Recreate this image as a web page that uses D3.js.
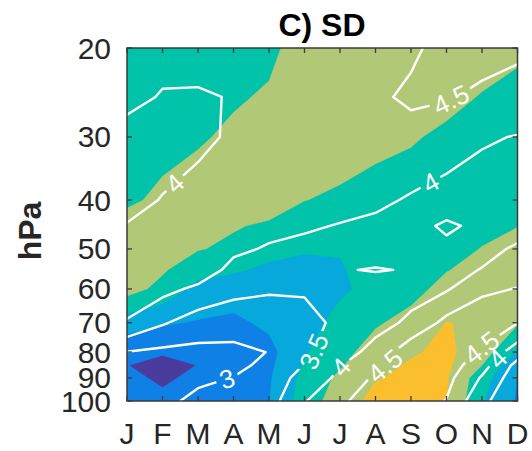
<!DOCTYPE html>
<html><head><meta charset="utf-8">
<script src="https://cdn.jsdelivr.net/npm/d3@7"></script>
<style>body{margin:0;background:#fff}</style>
</head><body><svg id="c" width="532" height="451"></svg>
<script>
// ---------- data ----------
const months = ["J","F","M","A","M","J","J","A","S","O","N","D"];
const levels = [20,25,30,40,45,50,55,60,70,80,85,90,100];   // hPa, grid rows
const yTicks = [20,30,40,50,60,70,80,90,100];
const shadeThresholds = [2.75,3.25,3.75,4.25,4.75];
const lineLevels = [3,3.5,4,4.5];

// shaded SD field (rows = levels, cols = months)
const shadeSD = [
 [4.00,4.00,4.05,4.10,4.15,4.45,4.45,4.45,4.50,4.55,4.50,4.35],
 [4.05,4.05,4.10,4.20,4.30,4.50,4.50,4.50,4.50,4.40,4.22,4.10],
 [4.10,4.15,4.20,4.33,4.45,4.55,4.50,4.40,4.30,4.15,4.00,3.95],
 [4.20,4.31,4.45,4.45,4.50,4.26,4.17,4.05,4.00,3.95,3.90,4.05],
 [4.36,4.44,4.36,4.29,4.18,4.01,3.96,3.97,3.95,4.00,4.10,4.24],
 [4.50,4.55,4.28,4.15,3.90,3.78,3.78,3.90,3.90,4.05,4.27,4.40],
 [4.47,4.31,3.92,3.81,3.66,3.66,3.71,3.93,4.00,4.23,4.42,4.45],
 [4.45,4.10,3.60,3.50,3.45,3.55,3.65,3.95,4.10,4.40,4.55,4.50],
 [3.50,3.30,3.215,3.15,3.35,3.50,3.95,4.20,4.40,4.76,4.70,4.30],
 [2.85,2.80,2.95,3.05,3.10,3.70,4.10,4.45,4.70,4.85,4.50,3.70],
 [2.76,2.60,2.76,2.95,3.15,3.80,4.20,4.60,4.80,4.85,4.25,3.35],
 [2.85,2.68,2.85,2.95,3.20,3.90,4.35,4.72,4.85,4.80,3.95,3.24],
 [2.95,2.85,2.95,3.00,3.24,4.00,4.50,4.90,4.95,4.76,3.80,3.20]
];
// contoured SD field
const lineSD = [
 [4.10,4.05,4.08,4.12,4.15,4.30,4.35,4.40,4.45,4.60,4.60,4.55],
 [4.04,3.99,3.98,4.01,4.10,4.30,4.40,4.45,4.55,4.52,4.45,4.40],
 [3.95,3.90,3.92,4.05,4.20,4.30,4.35,4.40,4.40,4.35,4.05,3.98],
 [3.93,4.01,4.12,4.25,4.30,4.15,4.15,4.10,3.95,3.75,3.80,3.80],
 [4.01,4.15,4.25,4.30,4.15,4.05,3.98,3.90,3.85,4.07,3.90,3.80],
 [4.15,4.30,4.35,4.10,3.95,3.90,3.90,3.60,3.80,3.90,3.85,4.07],
 [4.20,4.30,4.30,3.85,3.80,3.70,3.95,4.05,3.95,3.85,4.02,4.25],
 [4.15,4.15,3.90,3.65,3.55,3.55,3.70,3.60,3.85,3.95,4.40,4.52],
 [3.98,3.55,3.255,3.18,3.26,3.35,3.60,3.85,4.08,4.65,4.83,4.51],
 [2.99,2.90,2.885,2.905,3.01,3.40,3.80,4.15,4.85,4.80,4.43,3.74],
 [2.85,2.75,2.80,2.90,3.10,3.52,3.98,4.35,4.90,4.75,4.20,3.34],
 [2.80,2.70,2.92,3.01,3.20,3.70,4.10,4.58,4.85,4.65,3.95,3.20],
 [2.80,2.90,3.10,3.15,3.30,3.97,4.40,4.80,4.75,4.48,3.60,3.16]
];
// contour labels: level, month index, pressure
const labelLevels = [4,4.5,4,3.5,3,4,4.5,4.5,4];
const labelMonths = [1.44,9.15,8.54,5.18,2.85,6.03,7.27,10.0,10.42];
const labelPress  = [37.7,25.5,36.8,79.3,91.7,85.7,85.2,78.6,82.2];

// ---------- drawing ----------
const W=532,H=451,L=127,R=517.5,T=48,B=401;
const colors = ["#4a3b9c","#0f80e6","#07a8db","#00c3aa","#b1c876","#fbbf2e"];
const FONT="'Liberation Sans',Arial,sans-serif";
const svg = d3.select("#c");
const x = d3.scaleLinear().domain([0,11]).range([L,R]);
const y = d3.scaleLog().domain([20,100]).range([T,B]);
const nx = months.length, ny = levels.length;

function toPx(pt){
  const xi = Math.max(0, Math.min(nx-1, pt[0]-0.5));
  const yi = Math.max(0, Math.min(ny-1, pt[1]-0.5));
  const i0 = Math.min(ny-2, Math.floor(yi)), f = yi - i0;
  const py = y(levels[i0]) + f*(y(levels[i0+1]) - y(levels[i0]));
  return [x(xi), py, xi, yi];
}

const defs = svg.append("defs");
defs.append("clipPath").attr("id","plotclip").append("rect")
  .attr("x",L).attr("y",T).attr("width",R-L).attr("height",B-T);

const gFill = svg.append("g").attr("clip-path","url(#plotclip)");
gFill.append("rect").attr("x",L).attr("y",T).attr("width",R-L).attr("height",B-T).attr("fill",colors[0]);
const fillContours = d3.contours().size([nx,ny]).thresholds(shadeThresholds)(shadeSD.flat());
fillContours.forEach((mp,i)=>{
  let d="";
  mp.coordinates.forEach(poly=>poly.forEach(ring=>{
    d += "M" + ring.map(p=>{const q=toPx(p);return q[0].toFixed(2)+","+q[1].toFixed(2);}).join("L") + "Z";
  }));
  gFill.append("path").attr("d",d).attr("fill",colors[i+1]).attr("fill-rule","evenodd")
    .attr("stroke",colors[i+1]).attr("stroke-width",0.3);
});

// contour lines
const lineContours = d3.contours().size([nx,ny]).thresholds(lineLevels)(lineSD.flat());
const polylinesByLevel = {};
lineContours.forEach(mp=>{
  const lines=[];
  mp.coordinates.forEach(poly=>poly.forEach(ring=>{
    const pts = ring.map(toPx);
    let cur=[];
    for(let k=0;k<pts.length-1;k++){
      const a=pts[k], b=pts[k+1];
      const edge=(a[2]===0&&b[2]===0)||(a[2]===nx-1&&b[2]===nx-1)||(a[3]===0&&b[3]===0)||(a[3]===ny-1&&b[3]===ny-1);
      if(edge){ if(cur.length>1) lines.push(cur); cur=[]; }
      else { if(!cur.length) cur.push(a); cur.push(b); }
    }
    if(cur.length>1) lines.push(cur);
  }));
  polylinesByLevel[mp.value]=lines;
});

const mask = defs.append("mask").attr("id","gap").attr("maskUnits","userSpaceOnUse")
  .attr("x",0).attr("y",0).attr("width",W).attr("height",H);
mask.append("rect").attr("width",W).attr("height",H).attr("fill","white");

const gLines = svg.append("g").attr("clip-path","url(#plotclip)");
const gL2 = gLines.append("g").attr("mask","url(#gap)");
Object.keys(polylinesByLevel).forEach(k=>{
  polylinesByLevel[k].forEach(pl=>{
    gL2.append("path").attr("d","M"+pl.map(p=>p[0].toFixed(2)+","+p[1].toFixed(2)).join("L"))
      .attr("fill","none").attr("stroke","#fff").attr("stroke-width",2.4)
      .attr("stroke-linejoin","round").attr("stroke-linecap","round");
  });
});

// labels
const gLab = svg.append("g");
labelLevels.forEach((lv,i)=>{
  const ax=x(labelMonths[i]), ay=y(labelPress[i]);
  const lines = polylinesByLevel[lv]||[];
  let best=null;
  lines.forEach(pl=>{
    for(let k=0;k<pl.length-1;k++){
      const a=pl[k],b=pl[k+1];
      const dx=b[0]-a[0], dy=b[1]-a[1], L2=dx*dx+dy*dy;
      if(L2===0) continue;
      let t=((ax-a[0])*dx+(ay-a[1])*dy)/L2; t=Math.max(0,Math.min(1,t));
      const px=a[0]+t*dx, py=a[1]+t*dy, dd=(px-ax)**2+(py-ay)**2;
      if(!best||dd<best.d) best={d:dd,px,py,ang:Math.atan2(dy,dx)*180/Math.PI};
    }
  });
  if(!best) return;
  let ang=best.ang; if(ang>90) ang-=180; if(ang<=-90) ang+=180;
  const txt = gLab.append("text").text(String(lv))
    .attr("transform",`translate(${best.px},${best.py}) rotate(${ang})`)
    .attr("text-anchor","middle").attr("dy","0.36em")
    .attr("font-family",FONT).attr("font-size",26)
    .attr("fill","#fff");
  const w = txt.node().getComputedTextLength()+8;
  mask.append("rect").attr("x",-w/2).attr("y",-11).attr("width",w).attr("height",22)
    .attr("fill","black").attr("transform",`translate(${best.px},${best.py}) rotate(${ang})`);
});

// axes frame and ticks
const axCol="#3a3a3a";
const gAx = svg.append("g");
gAx.append("rect").attr("x",L).attr("y",T).attr("width",R-L).attr("height",B-T)
  .attr("fill","none").attr("stroke",axCol).attr("stroke-width",1.5);
months.forEach((m,i)=>{
  const xx=x(i);
  gAx.append("line").attr("x1",xx).attr("x2",xx).attr("y1",B).attr("y2",B-5).attr("stroke",axCol).attr("stroke-width",1.3);
  gAx.append("line").attr("x1",xx).attr("x2",xx).attr("y1",T).attr("y2",T+5).attr("stroke",axCol).attr("stroke-width",1.3);
  gAx.append("text").text(m).attr("x",xx).attr("y",444).attr("text-anchor","middle")
    .attr("font-family",FONT).attr("font-size",30).attr("fill","#262626");
});
yTicks.forEach(p=>{
  const yy=y(p);
  gAx.append("line").attr("x1",L).attr("x2",L+5).attr("y1",yy).attr("y2",yy).attr("stroke",axCol).attr("stroke-width",1.3);
  gAx.append("line").attr("x1",R).attr("x2",R-5).attr("y1",yy).attr("y2",yy).attr("stroke",axCol).attr("stroke-width",1.3);
  gAx.append("text").text(p).attr("x",111).attr("y",yy+10.5).attr("text-anchor","end")
    .attr("font-family",FONT).attr("font-size",30).attr("fill","#262626");
});
svg.append("text").text("hPa").attr("transform","translate(41,231) rotate(-90)")
  .attr("text-anchor","middle").attr("font-family",FONT)
  .attr("font-weight","bold").attr("font-size",32).attr("fill","#262626");
svg.append("text").text("C) SD").attr("x",322).attr("y",36).attr("text-anchor","middle")
  .attr("font-family",FONT).attr("font-weight","bold")
  .attr("font-size",32).attr("fill","#000");
</script>
</body></html>
